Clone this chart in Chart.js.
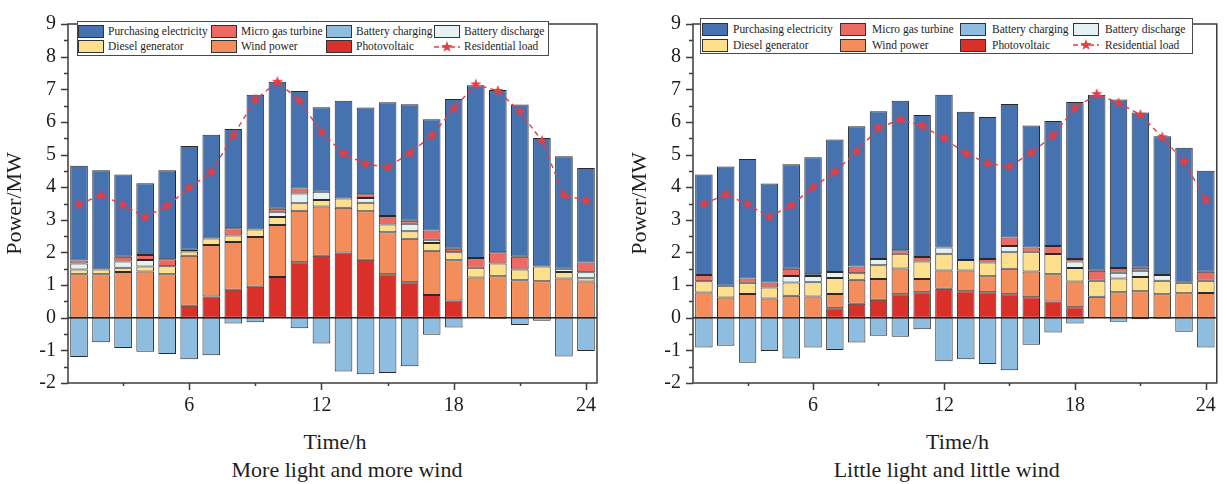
<!DOCTYPE html>
<html>
<head>
<meta charset="utf-8">
<script src="https://cdn.jsdelivr.net/npm/chart.js@4.4.1/dist/chart.umd.min.js"></script>
<style>
  body { margin: 0; background: #fff; font-family: "Liberation Serif", "Times New Roman", serif; }
  #wrap { position: relative; width: 1227px; height: 484px; overflow: hidden; }
  canvas.cv { position: absolute; top: 0; }
  .lab { position: absolute; font-size: 22px; line-height: 1; color: #1e1e1e; transform: translateX(-50%); white-space: nowrap; }
  .lbox { position: absolute; border: 1px solid #4a4a4a; box-sizing: border-box; background: #fff; }
  .ltxt { position: absolute; font-size: 13.5px; line-height: 1; color: #1e1e1e; white-space: nowrap;
          transform: scaleX(0.85); transform-origin: left center; }
  .sw { position: absolute; width: 26px; height: 13px; border: 1px solid #333; box-sizing: border-box; }
</style>
</head>
<body>
<div id="wrap">
  <canvas id="chartA" class="cv" width="613" height="420" style="left:0"></canvas>
  <canvas id="chartB" class="cv" width="602" height="420" style="left:625px"></canvas>
</div>
<script>
// hours on the x axis
const hours = ['1','2','3','4','5','6','7','8','9','10','11','12','13','14','15','16','17','18','19','20','21','22','23','24'];
const xTickShown = ['6', '12', '18', '24'];
const yMin = -2, yMax = 9;

// More light and more wind (MW)
const pvA = [0,0,0,0,0,0.37,0.65,0.86,0.95,1.25,1.70,1.90,2.00,1.78,1.33,1.09,0.70,0.53,0,0,0,0,0,0];
const windA = [1.33,1.33,1.40,1.42,1.33,1.53,1.58,1.46,1.52,1.59,1.58,1.51,1.37,1.48,1.29,1.33,1.35,1.23,1.23,1.27,1.15,1.12,1.20,1.11];
const dieselA = [0.15,0.15,0.13,0.15,0.25,0.13,0.20,0.20,0.23,0.25,0.23,0.20,0.28,0.26,0.24,0.23,0.24,0.25,0.30,0.39,0.33,0.45,0.20,0.10];
const dischargeA = [0.18,0,0.19,0.20,0,0.05,0,0,0,0.16,0.30,0.25,0,0.15,0,0.23,0.10,0,0,0,0,0,0.10,0.18];
const gasA = [0.09,0,0.15,0.15,0.21,0,0,0.22,0,0.09,0.15,0,0,0.11,0.26,0.09,0.28,0.10,0.30,0.35,0.39,0,0,0.30];
const gridA = [2.91,3.04,2.52,2.20,2.73,3.18,3.18,3.04,4.13,3.89,2.99,2.59,3.00,2.66,3.48,3.57,3.41,4.59,5.29,4.97,4.66,3.94,3.45,2.90];
const chargeA = [-1.20,-0.75,-0.93,-1.04,-1.11,-1.27,-1.15,-0.18,-0.14,0,-0.32,-0.79,-1.65,-1.73,-1.69,-1.49,-0.52,-0.30,0,-0.03,-0.22,-0.09,-1.19,-1.02];
const loadA = [3.47,3.76,3.46,3.08,3.43,3.98,4.46,5.59,6.68,7.23,6.65,5.68,5.03,4.71,4.61,5.04,5.58,6.41,7.15,6.95,6.32,5.42,3.76,3.59];

// Little light and little wind (MW)
const pvB = [0,0,0,0,0,0,0.29,0.43,0.55,0.72,0.78,0.89,0.81,0.78,0.72,0.63,0.50,0.32,0,0,0,0,0,0];
const windB = [0.77,0.62,0.73,0.59,0.67,0.65,0.44,0.73,0.64,0.79,0.41,0.56,0.64,0.49,0.78,0.79,0.83,0.79,0.64,0.78,0.81,0.72,0.75,0.76];
const dieselB = [0.35,0.36,0.34,0.34,0.41,0.44,0.49,0.20,0.42,0.45,0.53,0.51,0.32,0.42,0.51,0.60,0.62,0.41,0.49,0.42,0.44,0.41,0.32,0.37];
const dischargeB = [0,0,0,0,0.20,0.19,0.18,0,0.19,0,0,0.19,0,0,0.19,0,0,0.20,0,0.18,0.19,0.18,0,0];
const gasB = [0.19,0,0.13,0.15,0.22,0.05,0,0.21,0,0.11,0.14,0,0,0.11,0.26,0.13,0.25,0.08,0.31,0.14,0.09,0,0,0.28];
const gridB = [3.08,3.65,3.66,3.03,3.20,3.59,4.06,4.30,4.53,4.58,4.35,4.68,4.54,4.35,4.09,3.74,3.83,4.81,5.39,5.17,4.76,4.25,4.14,3.09];
const chargeB = [-0.91,-0.86,-1.38,-1.02,-1.25,-0.91,-0.99,-0.76,-0.55,-0.58,-0.35,-1.33,-1.27,-1.42,-1.61,-0.83,-0.45,-0.18,0,-0.12,-0.05,-0.03,-0.43,-0.91];
const loadB = [3.48,3.78,3.48,3.09,3.44,4.00,4.46,5.10,5.81,6.08,5.88,5.50,5.03,4.73,4.63,5.06,5.58,6.42,6.85,6.58,6.22,5.53,4.78,3.61];

const colors = {
  grid: '#4672b0',
  gas: '#eb6a63',
  charge: '#8fbde0',
  discharge: '#e4f2f3',
  diesel: '#fddf8e',
  wind: '#f48d5c',
  pv: '#d9302a',
  load: '#e83c42'
};

const FONT = '"Liberation Serif", "Times New Roman", serif';
const TEXT = '#1e1e1e';

function makeStar(r, color) {
  const s = Math.ceil(r * 2 + 2);
  const c = document.createElement('canvas');
  c.width = s; c.height = s;
  const g = c.getContext('2d');
  g.fillStyle = color;
  g.beginPath();
  for (let i = 0; i < 10; i++) {
    const rad = i % 2 === 0 ? r : r * 0.4;
    const a = -Math.PI / 2 + i * Math.PI / 5;
    const px = s / 2 + rad * Math.cos(a), py = s / 2 + rad * Math.sin(a);
    if (i === 0) g.moveTo(px, py); else g.lineTo(px, py);
  }
  g.closePath();
  g.fill();
  return c;
}
const star = makeStar(6, colors.load);

// frame, zero line and the minor/major tick marks
const framePlugin = {
  id: 'frame',
  beforeDatasetsDraw(chart) {
    const { ctx, chartArea: a, scales: { y } } = chart;
    const y0 = y.getPixelForValue(0);
    ctx.save();
    ctx.strokeStyle = '#222';
    ctx.lineWidth = 1.5;
    ctx.beginPath();
    ctx.moveTo(a.left, y0);
    ctx.lineTo(a.right, y0);
    ctx.stroke();
    ctx.restore();
  },
  afterDraw(chart) {
    const { ctx, chartArea: a, scales: { x, y } } = chart;
    ctx.save();
    ctx.strokeStyle = '#3c3c3c';
    ctx.lineWidth = 1.5;
    ctx.strokeRect(a.left, a.top, a.right - a.left, a.bottom - a.top);
    ctx.beginPath();
    for (let v = yMin; v <= yMax; v += 0.5) {
      const py = Math.round(y.getPixelForValue(v)) + 0.5;
      const len = Number.isInteger(v) ? 7 : 4;
      ctx.moveTo(a.left - len, py);
      ctx.lineTo(a.left, py);
    }
    for (let h = 3; h <= 24; h += 3) {
      const px = Math.round(x.getPixelForValue(h - 1)) + 0.5;
      const len = h % 6 === 0 ? 7 : 3;
      ctx.moveTo(px, a.bottom);
      ctx.lineTo(px, a.bottom + len);
    }
    ctx.stroke();
    ctx.restore();
  }
};

function barSet(label, data, color) {
  return {
    type: 'bar',
    label: label,
    data: data,
    backgroundColor: color,
    borderColor: '#2a2a2a',
    borderWidth: 1,
    borderSkipped: false,
    stack: 'power',
    barPercentage: 0.8,
    categoryPercentage: 1
  };
}

function makeChart(id, s, padRight) {
  return new Chart(document.getElementById(id), {
    data: {
      labels: hours,
      datasets: [
        barSet('Photovoltaic', s.pv, colors.pv),
        barSet('Wind power', s.wind, colors.wind),
        barSet('Diesel generator', s.diesel, colors.diesel),
        barSet('Battery discharge', s.discharge, colors.discharge),
        barSet('Micro gas turbine', s.gas, colors.gas),
        barSet('Purchasing electricity', s.grid, colors.grid),
        barSet('Battery charging', s.charge, colors.charge),
        {
          type: 'line',
          label: 'Residential load',
          data: s.load,
          stack: 'load',
          order: -1,
          borderColor: colors.load,
          borderWidth: 1.4,
          borderDash: [5, 4],
          pointStyle: star,
          pointRadius: 6,
          tension: 0,
          fill: false
        }
      ]
    },
    options: {
      responsive: false,
      animation: false,
      layout: { padding: { left: 0, right: padRight, top: 13, bottom: 0 } },
      plugins: { legend: { display: false }, tooltip: { enabled: false } },
      scales: {
        x: {
          type: 'category',
          stacked: true,
          offset: true,
          grid: { display: false, drawTicks: false, tickLength: 0 },
          border: { display: false },
          ticks: {
            autoSkip: false,
            maxRotation: 0,
            padding: 11,
            color: TEXT,
            font: { family: FONT, size: 20 },
            callback: (v, i) => xTickShown.includes(hours[i]) ? hours[i] : ''
          },
          afterFit: (sc) => { sc.height = 37; }
        },
        y: {
          stacked: true,
          min: yMin,
          max: yMax,
          grid: { display: false, drawTicks: false, tickLength: 0 },
          border: { display: false },
          ticks: {
            stepSize: 1,
            padding: 12,
            color: TEXT,
            font: { family: FONT, size: 20 }
          },
          title: {
            display: true,
            text: 'Power/MW',
            color: TEXT,
            padding: { top: 2, bottom: 0 },
            font: { family: FONT, size: 22 }
          },
          afterFit: (sc) => { sc.width = 68; }
        }
      }
    },
    plugins: [framePlugin]
  });
}

makeChart('chartA', { pv: pvA, wind: windA, diesel: dieselA, discharge: dischargeA, gas: gasA, grid: gridA, charge: chargeA, load: loadA }, 16);
makeChart('chartB', { pv: pvB, wind: windB, diesel: dieselB, discharge: dischargeB, gas: gasB, grid: gridB, charge: chargeB, load: loadB }, 6);

// axis titles and subtitles under each chart
const wrap = document.getElementById('wrap');
function addLabel(text, cx, top) {
  const d = document.createElement('div');
  d.className = 'lab';
  d.textContent = text;
  d.style.left = cx + 'px';
  d.style.top = top + 'px';
  wrap.appendChild(d);
}
addLabel('Time/h', 335, 431);
addLabel('More light and more wind', 347, 458.5);
addLabel('Time/h', 957.5, 431);
addLabel('Little light and little wind', 946.7, 458.5);

// legend boxes (two rows of four entries)
const legendNames = ['Purchasing electricity', 'Micro gas turbine', 'Battery charging', 'Battery discharge',
                     'Diesel generator', 'Wind power', 'Photovoltaic', 'Residential load'];
const legendColors = [colors.grid, colors.gas, colors.charge, colors.discharge,
                      colors.diesel, colors.wind, colors.pv, null];

function addLegend(box, swX, txX, rowY) {
  const b = document.createElement('div');
  b.className = 'lbox';
  b.style.left = box.x + 'px';
  b.style.top = box.y + 'px';
  b.style.width = box.w + 'px';
  b.style.height = box.h + 'px';
  wrap.appendChild(b);
  legendNames.forEach((name, i) => {
    const col = i % 4, row = Math.floor(i / 4);
    const cy = rowY[row];
    if (legendColors[i]) {
      const sw = document.createElement('div');
      sw.className = 'sw';
      sw.style.background = legendColors[i];
      sw.style.left = swX[col] + 'px';
      sw.style.top = (cy - 6.5) + 'px';
      wrap.appendChild(sw);
    } else {
      const c = document.createElement('canvas');
      c.width = 26; c.height = 14;
      c.style.position = 'absolute';
      c.style.left = swX[col] + 'px';
      c.style.top = (cy - 7) + 'px';
      const g = c.getContext('2d');
      g.strokeStyle = colors.load;
      g.lineWidth = 1.5;
      g.setLineDash([5, 3]);
      g.beginPath();
      g.moveTo(0, 7); g.lineTo(26, 7);
      g.stroke();
      g.drawImage(star, 13 - star.width / 2, 7 - star.height / 2);
      wrap.appendChild(c);
    }
    const t = document.createElement('div');
    t.className = 'ltxt';
    t.textContent = name;
    t.style.left = txX[col] + 'px';
    t.style.top = (cy - 7.3) + 'px';
    wrap.appendChild(t);
  });
}
addLegend({ x: 77, y: 21, w: 472, h: 35 }, [78, 211, 326, 434], [108, 241, 356, 464], [31, 46.5]);
addLegend({ x: 700, y: 18, w: 493, h: 36 }, [701.5, 840, 960, 1073], [733, 872, 992, 1105], [29, 45]);
</script>
</body>
</html>
